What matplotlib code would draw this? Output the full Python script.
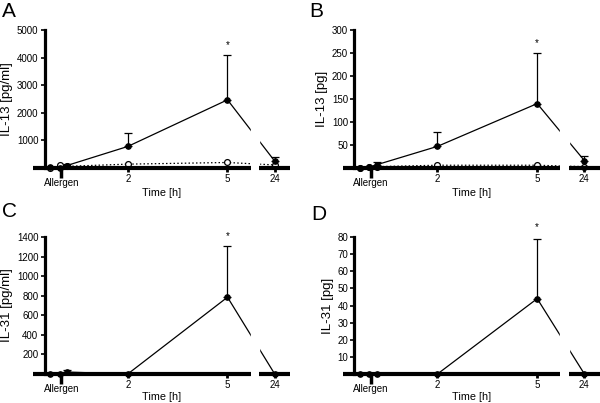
import numpy as np
import matplotlib
matplotlib.use('Agg')
import matplotlib.pyplot as plt

plt.rcParams['font.family'] = ['Liberation Sans', 'DejaVu Sans']

# Sampling times in hours (24 h sits behind an axis break)
times = [-0.33, -0.05, 0.17, 2, 5, 24]

# Panel A: IL-13 [pg/ml]
a_pat = [20, 10, 90, 780, 2470, 250]
a_err = [0, 0, 60, 490, 1630, 160]
a_ctl = [0, 100, 60, 140, 200, 110]
# Panel B: IL-13 [pg]
b_pat = [0, 2, 7, 47, 140, 16]
b_err = [0, 0, 7, 31, 110, 10]
b_ctl = [0, 3, 3, 6, 6, 3]
# Panel C: IL-31 [pg/ml]
c_pat = [0, 0, 20, 0, 785, 0]
c_err = [0, 0, 25, 0, 525, 0]
# Panel D: IL-31 [pg]
d_pat = [0, 0, 0, 0, 44, 0]
d_err = [0, 0, 0, 0, 35, 0]

stars = [4450, 272, 1410, 86]
ylabels = ['IL-13 [pg/ml]', 'IL-13 [pg]', 'IL-31 [pg/ml]', 'IL-31 [pg]']
ytops = [5000, 300, 1400, 80]
ysteps = [1000, 50, 200, 10]
letters = ['A', 'B', 'C', 'D']

X24 = 6.42          # where 24 h is drawn
BRK = (5.70, 5.95)  # axis break
XL = (-0.85, 6.88)


def pos(t):
    return [x if x <= 5 else X24 for x in t]


fig = plt.figure(figsize=(6, 4.03), dpi=100)
W, H = 600.0, 403.0
boxes = [(33, 30, 168), (342.7, 30, 168), (33, 237, 374), (342.7, 237, 374)]
letter_pos = [(2, 2), (309, 2), (2, 202), (311, 205)]
xpads = [0, 0, -1.8, -1.8]
panels = [(a_pat, a_err, a_ctl), (b_pat, b_err, b_ctl),
          (c_pat, c_err, None), (d_pat, d_err, None)]

for i, (left, top, zero) in enumerate(boxes):
    ax = fig.add_axes([left / W, (H - zero) / H, 257 / W, (zero - top) / H])
    pat, err, ctl = panels[i]
    xs = pos(times)
    if ctl is not None:
        ax.plot(xs, ctl, ls=(0, (1.2, 1.8)), color='k', lw=0.9, marker='o',
                ms=4.2, mfc='white', mec='k', mew=0.9, clip_on=False, zorder=3)
    ax.errorbar(xs, pat, yerr=[np.zeros(len(err)), err], color='k', lw=0.9,
                marker='o', ms=3.8, capsize=3.2, elinewidth=0.9, capthick=0.9,
                clip_on=False, zorder=4)
    # white band hides the lines at the break
    ax.axvspan(BRK[0], BRK[1], color='white', zorder=5)
    # broken x axis
    ax.plot([XL[0], BRK[0]], [0, 0], color='k', lw=3, solid_capstyle='butt',
            clip_on=False, zorder=6)
    ax.plot([BRK[1], XL[1]], [0, 0], color='k', lw=3, solid_capstyle='butt',
            clip_on=False, zorder=6)
    ax.text(5, stars[i], '*', ha='center', va='center', fontsize=7)

    ax.set_xlim(*XL)
    ax.set_ylim(0, ytops[i])
    for s in ['top', 'right', 'bottom']:
        ax.spines[s].set_visible(False)
    ax.spines['left'].set_position(('data', -0.5))
    ax.spines['left'].set_bounds(0, ytops[i])
    ax.spines['left'].set_linewidth(2.3)
    ax.set_yticks(np.arange(ysteps[i], ytops[i] + 1, ysteps[i]))
    ax.tick_params(axis='y', length=3, width=1.2, labelsize=7, pad=1.5)
    ax.set_xticks([2, 5, X24], ['2', '5', '24'])
    ax.set_xticks([0], ['Allergen'], minor=True)
    ax.tick_params(axis='x', which='major', length=3, width=2, labelsize=7, pad=1.2)
    ax.tick_params(axis='x', which='minor', length=7, width=2.5, labelsize=7, pad=0.3)
    ax.set_xlabel('Time [h]', fontsize=7.8, labelpad=xpads[i])
    ax.set_ylabel(ylabels[i], fontsize=9.5, labelpad=2.5)
    lx, ly = letter_pos[i]
    fig.text(lx / W, (H - ly) / H, letters[i], fontsize=15,
             ha='left', va='top')

fig.savefig('out.png', dpi=100)
